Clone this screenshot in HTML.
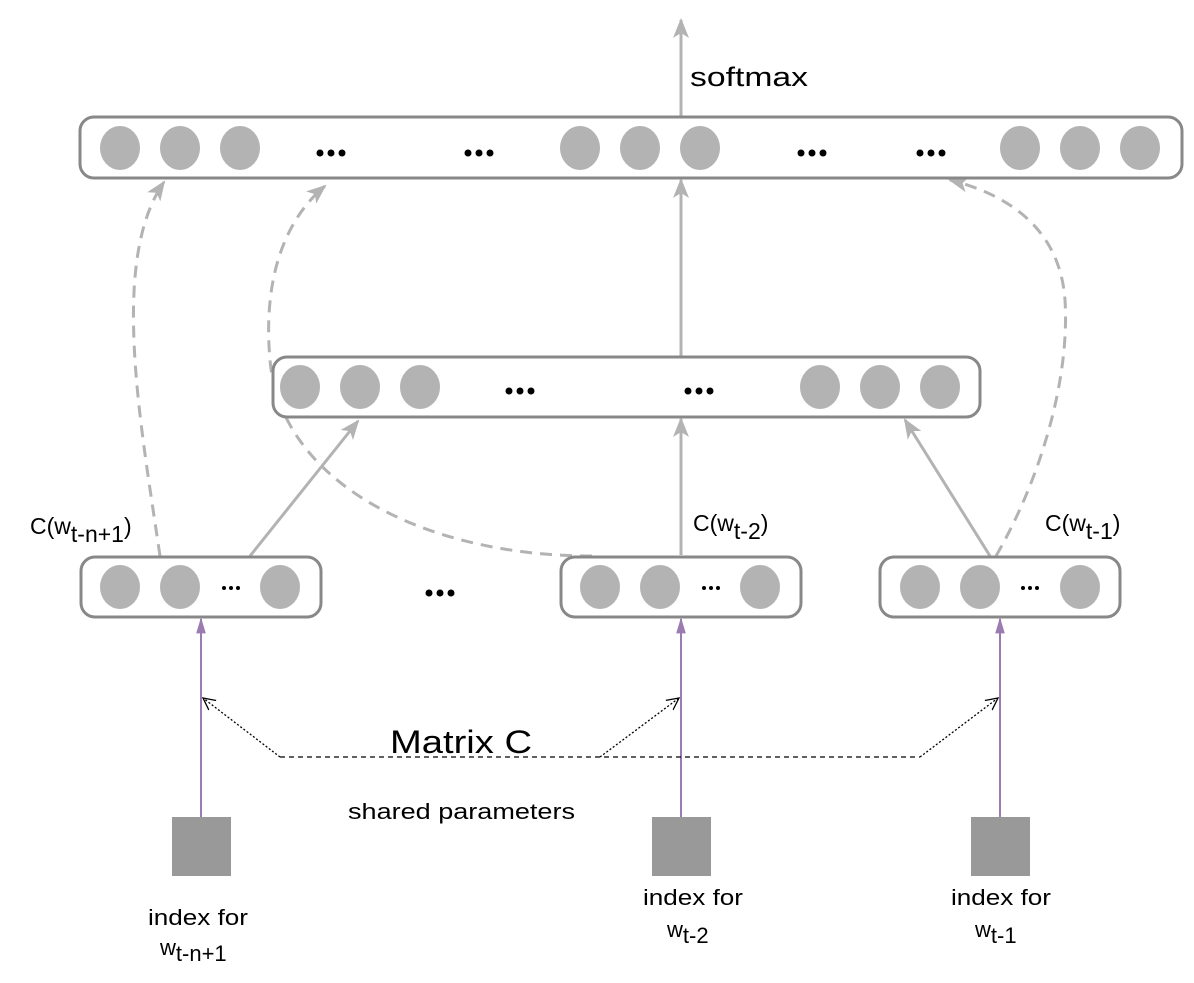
<!DOCTYPE html>
<html><head><style>
body{margin:0;background:#fff;}
svg text{font-family:"Liberation Sans",sans-serif;fill:#000;}
</style></head><body>
<svg width="1194" height="978" viewBox="0 0 1194 978" xmlns="http://www.w3.org/2000/svg">
<defs>
<marker id="agl" markerWidth="22" markerHeight="22" refX="18" refY="8" orient="auto" markerUnits="userSpaceOnUse" viewBox="0 0 22 16">
<path d="M0,0 L20,8 L0,16 L5,8 z" fill="#b3b3b3"/></marker>
<marker id="ap" markerWidth="16" markerHeight="22" refX="18" refY="6" orient="auto" markerUnits="userSpaceOnUse" viewBox="0 0 20 12">
<path d="M0,0 L20,6 L0,12 z" fill="#9b7bb0"/></marker>
<marker id="ak" markerWidth="14" markerHeight="14" refX="12" refY="6" orient="auto" markerUnits="userSpaceOnUse" viewBox="0 0 14 12">
<path d="M0,0 L12,6 L0,12" fill="none" stroke="#000" stroke-width="1.3"/></marker>
</defs>
<g fill="none" stroke="#b3b3b3" stroke-width="3">
<line x1="681" y1="116" x2="681" y2="20" marker-end="url(#agl)"/>
<line x1="681" y1="356" x2="681" y2="180" marker-end="url(#agl)"/>
<line x1="681" y1="555" x2="681" y2="419" marker-end="url(#agl)"/>
<line x1="250" y1="556" x2="358" y2="421" marker-end="url(#agl)"/>
<line x1="990" y1="556" x2="905" y2="420" marker-end="url(#agl)"/>
<g stroke-dasharray="12,8">
<path d="M160,556 C140,420 110,260 164,182" marker-end="url(#agl)"/>
<path d="M592,556 C420,556 280,480 270,360 C262,270 290,215 325,186" marker-end="url(#agl)"/>
<path d="M996,556 C1040,480 1070,380 1065,300 C1060,230 1010,195 950,180" marker-end="url(#agl)"/>
</g>
</g>
<g fill="#fff" stroke="#888" stroke-width="3">
<rect x="80" y="117" width="1102" height="61" rx="14"/>
<rect x="273" y="357" width="707" height="60" rx="14"/>
<rect x="81" y="557" width="240" height="60" rx="14"/>
<rect x="561" y="557" width="240" height="60" rx="14"/>
<rect x="880" y="557" width="240" height="60" rx="14"/>
</g>
<g fill="#b3b3b3">
<ellipse cx="120" cy="148" rx="20" ry="22"/><ellipse cx="180" cy="148" rx="20" ry="22"/><ellipse cx="240" cy="148" rx="20" ry="22"/>
<ellipse cx="580" cy="148" rx="20" ry="22"/><ellipse cx="640" cy="148" rx="20" ry="22"/><ellipse cx="700" cy="148" rx="20" ry="22"/>
<ellipse cx="1020" cy="148" rx="20" ry="22"/><ellipse cx="1080" cy="148" rx="20" ry="22"/><ellipse cx="1140" cy="148" rx="20" ry="22"/>
<ellipse cx="300" cy="387" rx="20" ry="22"/><ellipse cx="360" cy="387" rx="20" ry="22"/><ellipse cx="420" cy="387" rx="20" ry="22"/>
<ellipse cx="820" cy="387" rx="20" ry="22"/><ellipse cx="880" cy="387" rx="20" ry="22"/><ellipse cx="940" cy="387" rx="20" ry="22"/>
<ellipse cx="120" cy="587" rx="20" ry="22"/><ellipse cx="180" cy="587" rx="20" ry="22"/><ellipse cx="280" cy="587" rx="20" ry="22"/>
<ellipse cx="600" cy="587" rx="20" ry="22"/><ellipse cx="660" cy="587" rx="20" ry="22"/><ellipse cx="760" cy="587" rx="20" ry="22"/>
<ellipse cx="920" cy="587" rx="20" ry="22"/><ellipse cx="980" cy="587" rx="20" ry="22"/><ellipse cx="1080" cy="587" rx="20" ry="22"/>
</g>
<g fill="#000">
<g transform="translate(331,153)"><circle cx="-11" cy="0" r="3.5"/><circle cx="0" cy="0" r="3.5"/><circle cx="11" cy="0" r="3.5"/></g>
<g transform="translate(479,153)"><circle cx="-11" cy="0" r="3.5"/><circle cx="0" cy="0" r="3.5"/><circle cx="11" cy="0" r="3.5"/></g>
<g transform="translate(812,153)"><circle cx="-11" cy="0" r="3.5"/><circle cx="0" cy="0" r="3.5"/><circle cx="11" cy="0" r="3.5"/></g>
<g transform="translate(931,153)"><circle cx="-11" cy="0" r="3.5"/><circle cx="0" cy="0" r="3.5"/><circle cx="11" cy="0" r="3.5"/></g>
<g transform="translate(520,391)"><circle cx="-11" cy="0" r="3.5"/><circle cx="0" cy="0" r="3.5"/><circle cx="11" cy="0" r="3.5"/></g>
<g transform="translate(699,391)"><circle cx="-11" cy="0" r="3.5"/><circle cx="0" cy="0" r="3.5"/><circle cx="11" cy="0" r="3.5"/></g>
<g transform="translate(440,593)"><circle cx="-11" cy="0" r="3.5"/><circle cx="0" cy="0" r="3.5"/><circle cx="11" cy="0" r="3.5"/></g>
<g transform="translate(231,588)"><circle cx="-7" cy="0" r="2"/><circle cx="0" cy="0" r="2"/><circle cx="7" cy="0" r="2"/></g>
<g transform="translate(711,588)"><circle cx="-7" cy="0" r="2"/><circle cx="0" cy="0" r="2"/><circle cx="7" cy="0" r="2"/></g>
<g transform="translate(1030,588)"><circle cx="-7" cy="0" r="2"/><circle cx="0" cy="0" r="2"/><circle cx="7" cy="0" r="2"/></g>
</g>
<g stroke="#9b7bb0" stroke-width="2">
<line x1="201" y1="817" x2="201" y2="619" marker-end="url(#ap)"/>
<line x1="681" y1="817" x2="681" y2="619" marker-end="url(#ap)"/>
<line x1="1000" y1="817" x2="1000" y2="619" marker-end="url(#ap)"/>
</g>
<g fill="#999">
<rect x="172" y="817" width="59" height="59"/>
<rect x="652" y="817" width="59" height="59"/>
<rect x="971" y="817" width="59" height="59"/>
</g>
<g stroke="#000" stroke-width="1.3" fill="none">
<line x1="280" y1="757" x2="920" y2="757" stroke-dasharray="5,4"/>
<g stroke-dasharray="2,2">
<line x1="280" y1="757" x2="203" y2="698" marker-end="url(#ak)"/>
<line x1="600" y1="757" x2="679" y2="698" marker-end="url(#ak)"/>
<line x1="920" y1="757" x2="998" y2="698" marker-end="url(#ak)"/>
</g>
</g>
<text x="690" y="86" font-size="27" textLength="118" lengthAdjust="spacingAndGlyphs">softmax</text>
<text x="30" y="534" font-size="23">C(w<tspan dy="8">t-n+1</tspan><tspan dy="-8">)</tspan></text>
<text x="693" y="531" font-size="23">C(w<tspan dy="8">t-2</tspan><tspan dy="-8">)</tspan></text>
<text x="1045" y="531" font-size="23">C(w<tspan dy="8">t-1</tspan><tspan dy="-8">)</tspan></text>
<text x="390" y="753" font-size="32" textLength="142" lengthAdjust="spacingAndGlyphs">Matrix C</text>
<text x="348" y="819" font-size="22" textLength="227" lengthAdjust="spacingAndGlyphs">shared parameters</text>
<text x="148" y="925" font-size="22" textLength="100" lengthAdjust="spacingAndGlyphs">index for</text>
<text x="160" y="955" font-size="22">w<tspan dy="6">t-n+1</tspan></text>
<text x="643" y="905" font-size="22" textLength="100" lengthAdjust="spacingAndGlyphs">index for</text>
<text x="667" y="937" font-size="22">w<tspan dy="6">t-2</tspan></text>
<text x="951" y="905" font-size="22" textLength="100" lengthAdjust="spacingAndGlyphs">index for</text>
<text x="975" y="937" font-size="22">w<tspan dy="6">t-1</tspan></text>
</svg>
</body></html>
